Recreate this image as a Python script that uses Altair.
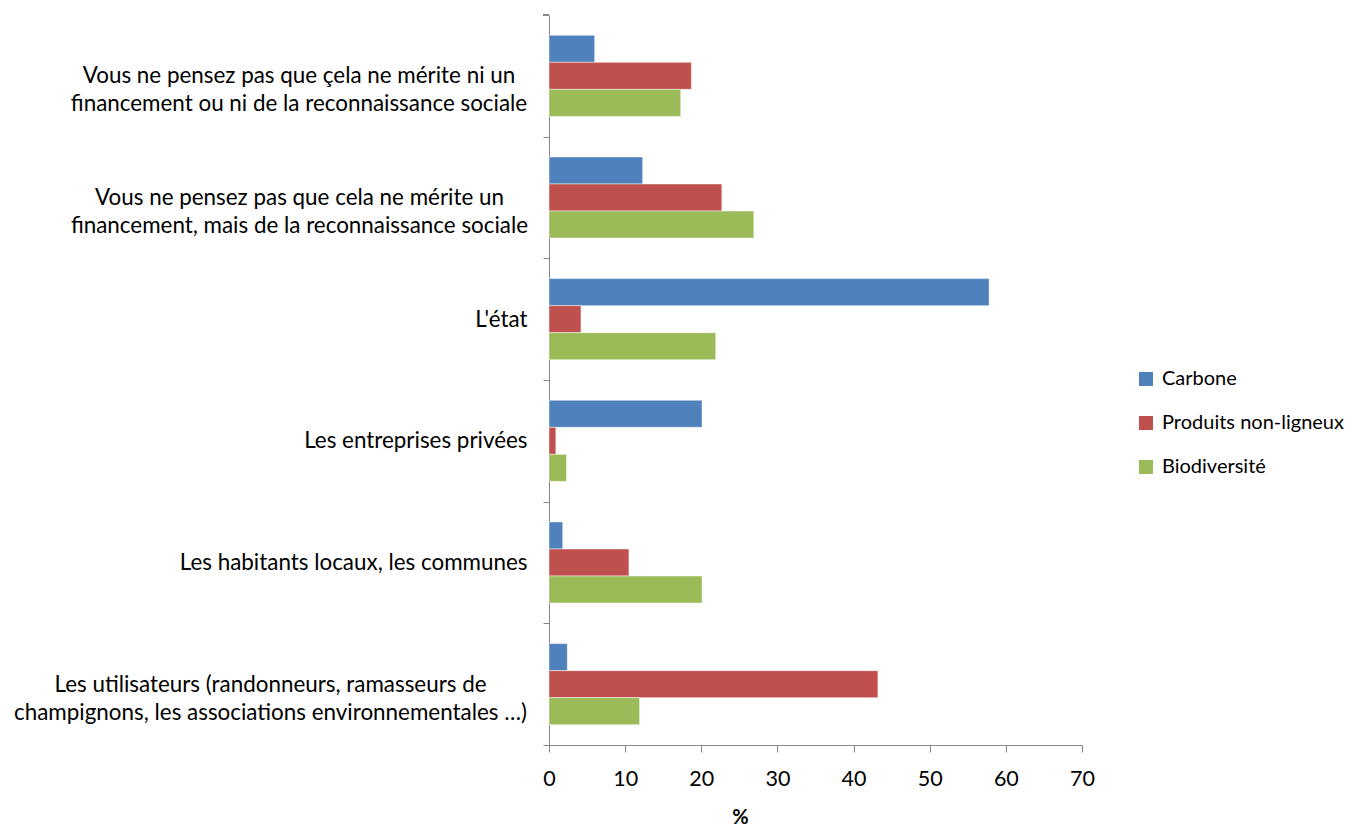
import altair as alt
import pandas as pd

categories = [
    "Vous ne pensez pas que çela ne mérite ni un\nfinancement ou ni de la reconnaissance sociale",
    "Vous ne pensez pas que cela ne mérite un\nfinancement, mais de la reconnaissance sociale",
    "L'état",
    "Les entreprises privées",
    "Les habitants locaux, les communes",
    "Les utilisateurs (randonneurs, ramasseurs de\nchampignons, les associations environnementales …)",
]
series = ["Carbone", "Produits non-ligneux", "Biodiversité"]
colors = ["#4F81BD", "#C0504D", "#9BBB59"]
carbone = [6.0, 12.3, 57.8, 20.1, 1.8, 2.4]
produits = [18.7, 22.7, 4.2, 0.9, 10.5, 43.2]
biodiversite = [17.3, 26.9, 21.9, 2.3, 20.1, 11.9]
x_ticks = [0, 10, 20, 30, 40, 50, 60, 70]

rows = []
for name, vals in zip(series, [carbone, produits, biodiversite]):
    for c, v in zip(categories, vals):
        rows.append({"cat": c, "serie": name, "val": v})
df = pd.DataFrame(rows)

FONT = "Lato"
FS_Y = 22.4
FS = 21.5
AXC = "#868686"
W, H = 533, 730
STEP = H / len(categories)
HALF_GAP = STEP / 3 / 2

# widths (px) of the widest line of each two-line label, for centring the lines
two_line_w = {categories[0]: 457, categories[1]: 456, categories[5]: 514}
pad_expr = " : ".join(
    [f"datum.value == {c!r} ? {16 + w / 2}" for c, w in two_line_w.items()] + ["16"]
)
align_expr = " : ".join(
    [f"datum.value == {c!r} ? 'center'" for c in two_line_w] + ["'right'"]
)

bars = (
    alt.Chart(df)
    .mark_bar(stroke="white", strokeWidth=0.8, strokeOpacity=0.6)
    .encode(
        x=alt.X(
            "val:Q",
            scale=alt.Scale(domain=[0, 70], nice=False, zero=True),
            axis=alt.Axis(
                values=x_ticks,
                title="%",
                titleFont=FONT,
                titleFontSize=20,
                titleFontWeight="bold",
                titleColor="black",
                titleX=191,
                titleY=78,
                titleBaseline="alphabetic",
                titleAngle=0,
                labelFont=FONT,
                labelFontSize=FS,
                labelColor="black",
                labelPadding=16,
                labelFlush=False,
                tickSize=7,
                tickColor=AXC,
                domainColor=AXC,
                grid=False,
            ),
        ),
        y=alt.Y(
            "cat:N",
            sort=categories,
            scale=alt.Scale(paddingInner=1 / 3, paddingOuter=1 / 6),
            axis=alt.Axis(
                title=None,
                labelExpr="split(datum.label, '\\n')",
                labelFont=FONT,
                labelFontSize=FS_Y,
                labelColor="black",
                labelLineHeight=28,
                labelLimit=1000,
                labelAlign=alt.ExprRef(align_expr),
                labelPadding=alt.ExprRef(pad_expr),
                labelBaseline="middle",
                bandPosition=1,
                tickOffset=HALF_GAP,
                labelOffset=-HALF_GAP,
                tickSize=6,
                tickColor=AXC,
                domainColor=AXC,
                grid=False,
            ),
        ),
        yOffset=alt.YOffset("serie:N", sort=series),
        color=alt.Color(
            "serie:N",
            sort=series,
            scale=alt.Scale(domain=series, range=colors),
            legend=alt.Legend(
                title=None,
                orient="none",
                legendX=587,
                legendY=354,
                symbolType="square",
                symbolSize=196,
                symbolStrokeWidth=0,
                labelFont=FONT,
                labelFontSize=20,
                labelColor="black",
                labelOffset=6,
                rowPadding=24,
                padding=0,
                labelLimit=400,
            ),
        ),
    )
)

top_tick = alt.Chart(df).mark_rule(color=AXC, strokeWidth=1).encode(
    x=alt.value(-6), x2=alt.value(0), y=alt.value(0)
)

chart = (
    alt.layer(bars, top_tick)
    .properties(
        width=W,
        height=H,
        autosize=alt.AutoSizeParams(type="none"),
        padding={"left": 541, "top": 7, "right": 269, "bottom": 84},
    )
    .configure_view(stroke=None)
)

chart.save("out.html", embed_options={"renderer": "svg", "actions": False})
